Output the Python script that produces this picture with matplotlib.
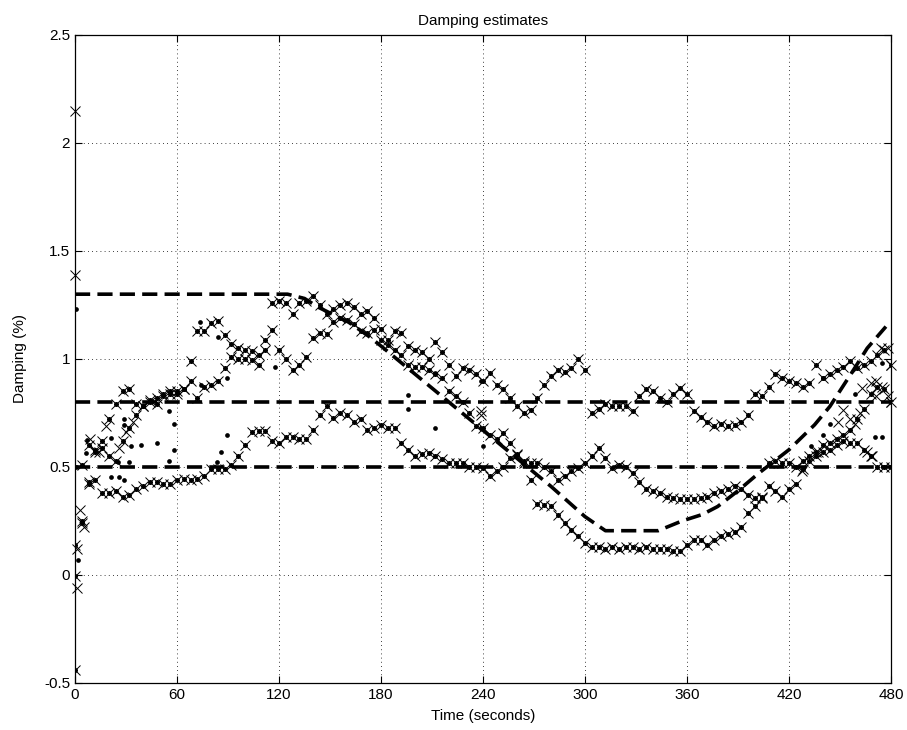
import matplotlib
matplotlib.use("Agg")
import matplotlib.pyplot as plt
import numpy as np

plt.rcParams['font.family'] = ['Liberation Sans', 'DejaVu Sans']

# time grid of the three tracked estimates (every 4 s)
t = np.arange(0, 481, 4)

# estimates tracking the 1.3 % mode
est_a = [0.14, 0.24, 0.42, 0.58, 0.62, 0.72, 0.79, 0.85, 0.86, 0.79,
         0.78, 0.81, 0.82, 0.83, 0.84, 0.85, 0.86, 0.99, 1.13, 1.13,
         1.165, 1.175, 1.11, 1.07, 1.05, 1.04, 1.035, 1.02, 1.04, 1.26,
         1.27, 1.26, 1.21, 1.26, 1.27, 1.29, 1.25, 1.21, 1.23, 1.25,
         1.26, 1.24, 1.21, 1.22, 1.19, 1.14, 1.09, 1.04, 1.02, 0.97,
         0.965, 0.965, 0.95, 0.93, 0.91, 0.85, 0.83, 0.80, 0.75, 0.69,
         0.68, 0.65, 0.63, 0.655, 0.61, 0.56, 0.53, 0.44, 0.33, 0.325,
         0.32, 0.28, 0.24, 0.21, 0.18, 0.15, 0.13, 0.13, 0.12, 0.13,
         0.12, 0.13, 0.13, 0.12, 0.13, 0.12, 0.12, 0.12, 0.11, 0.11,
         0.14, 0.16, 0.16, 0.14, 0.16, 0.18, 0.19, 0.20, 0.22, 0.285,
         0.32, 0.355, 0.41, 0.39, 0.36, 0.40, 0.42, 0.53, 0.55, 0.57,
         0.60, 0.61, 0.63, 0.65, 0.67, 0.72, 0.77, 0.84, 0.87, 0.86,
         0.80]

# estimates tracking the 0.8 % mode
est_b = [-0.005, 0.51, 0.60, 0.57, 0.59, 0.55, 0.53, 0.62, 0.68, 0.74,
         0.78, 0.80, 0.79, 0.84, 0.85, 0.84, 0.86, 0.90, 0.82, 0.87,
         0.88, 0.90, 0.96, 1.01, 1.0, 1.0, 0.995, 0.97, 1.09, 1.135,
         1.04, 1.0, 0.95, 0.97, 1.01, 1.095, 1.12, 1.115, 1.17, 1.19,
         1.18, 1.16, 1.13, 1.12, 1.135, 1.09, 1.065, 1.13, 1.12, 1.06,
         1.04, 1.03, 1.0, 1.08, 1.03, 0.97, 0.92, 0.96, 0.95, 0.93,
         0.90, 0.935, 0.88, 0.86, 0.82, 0.78, 0.75, 0.765, 0.82, 0.88,
         0.92, 0.95, 0.94, 0.96, 1.0, 0.95, 0.75, 0.77, 0.79, 0.78,
         0.78, 0.78, 0.76, 0.83, 0.86, 0.85, 0.82, 0.80, 0.84, 0.865,
         0.84, 0.76, 0.73, 0.71, 0.69, 0.70, 0.69, 0.695, 0.71, 0.74,
         0.84, 0.83, 0.87, 0.93, 0.91, 0.90, 0.89, 0.87, 0.89, 0.97,
         0.91, 0.93, 0.95, 0.965, 0.99, 0.96, 0.97, 0.99, 1.02, 1.04,
         0.97]

# estimates tracking the 0.5 % mode
est_c = [-0.44, 0.25, 0.43, 0.44, 0.38, 0.38, 0.39, 0.36, 0.37, 0.40,
         0.41, 0.43, 0.43, 0.42, 0.42, 0.44, 0.445, 0.44, 0.445, 0.46,
         0.49, 0.49, 0.49, 0.51, 0.55, 0.60, 0.66, 0.665, 0.665, 0.62,
         0.61, 0.64, 0.64, 0.63, 0.63, 0.67, 0.74, 0.78, 0.725, 0.75,
         0.74, 0.71, 0.72, 0.67, 0.68, 0.695, 0.68, 0.68, 0.61, 0.58,
         0.55, 0.56, 0.565, 0.55, 0.535, 0.52, 0.52, 0.52, 0.50, 0.50,
         0.495, 0.46, 0.48, 0.50, 0.54, 0.555, 0.52, 0.52, 0.52, 0.50,
         0.48, 0.44, 0.46, 0.48, 0.495, 0.52, 0.55, 0.59, 0.54, 0.495,
         0.51, 0.50, 0.47, 0.43, 0.40, 0.39, 0.38, 0.36, 0.355, 0.35,
         0.35, 0.35, 0.355, 0.36, 0.38, 0.39, 0.40, 0.41, 0.40, 0.37,
         0.355, 0.36, 0.52, 0.53, 0.52, 0.52, 0.50, 0.49, 0.53, 0.55,
         0.57, 0.58, 0.60, 0.62, 0.61, 0.61, 0.58, 0.55, 0.50, 0.50,
         0.50]

# stray estimates (x markers)
stray_x_t = [0, 0, 1, 1, 3, 5, 9, 14, 18, 26, 30, 34, 239, 239,
             427.5, 437, 449, 452, 456, 459, 462, 463, 466, 468, 469,
             471, 471, 474.5, 474, 478.5, 478.5, 480, 480]
stray_x_y = [2.15, 1.39, 0.12, -0.06, 0.30, 0.22, 0.63, 0.57, 0.69, 0.59, 0.66, 0.71, 0.76, 0.74,
             0.48, 0.57, 0.71, 0.765, 0.72, 0.70, 0.75, 0.865, 0.57, 0.89, 0.55,
             0.90, 0.83, 0.87, 1.05, 0.83, 1.05, 0.80, 0.97]

# stray estimates (dots)
stray_dot_t = [0.4, 0.4, 2, 6.3, 7.2, 21, 21, 25, 26, 29, 29, 29, 32, 33, 38.6,
               48.4, 55.3, 55.3, 58.2, 58.2, 73.5, 74, 83.7, 84, 85.7, 89.6, 89.6,
               117.6, 196, 196, 211.7, 211.7, 239, 240,
               433, 440, 440, 444, 459, 470.6, 474.5, 474.5]
stray_dot_y = [1.23, 0.50, 0.07, 0.565, 0.625, 0.635, 0.455, 0.525, 0.455, 0.72, 0.695, 0.44, 0.525, 0.595, 0.60,
               0.61, 0.76, 0.53, 0.70, 0.58, 1.17, 0.88, 0.525, 1.10, 0.57, 0.91, 0.65,
               0.965, 0.835, 0.77, 0.68, 0.934, 0.90, 0.595,
               0.595, 0.91, 0.65, 0.70, 0.84, 0.64, 0.64, 0.98]

# true damping of the three modes
true1_t = [0, 125, 135, 143, 161, 172, 180, 200, 220, 240, 260, 280, 300, 312,
           343, 357, 369, 378, 390, 402, 420, 435, 444, 451, 458, 466, 477]
true1_y = [1.3, 1.3, 1.28, 1.24, 1.17, 1.11, 1.06, 0.93, 0.80, 0.67, 0.54, 0.41, 0.27, 0.205,
           0.205, 0.25, 0.28, 0.317, 0.39, 0.47, 0.58, 0.695, 0.78, 0.865, 0.95, 1.05, 1.15]
true2_t = [0, 480]
true2_y = [0.8, 0.8]
true3_t = [0, 480]
true3_y = [0.5, 0.5]

fig = plt.figure(figsize=(9.07, 7.30), dpi=100)
ax = fig.add_axes([0.0827, 0.0644, 0.8997, 0.8877])

dash = (0, (4.2, 2.0))
for tt, yy in [(true1_t, true1_y), (true2_t, true2_y), (true3_t, true3_y)]:
    ax.plot(tt, yy, color='k', linewidth=2.6, linestyle=dash, zorder=3)

for est in [est_a, est_b, est_c]:
    ax.plot(t, est, linestyle='none', marker='x', color='k', markersize=6.5,
            markeredgewidth=0.7, zorder=4)
    ax.plot(t, est, linestyle='none', marker='o', color='k', markersize=3.6,
            markeredgewidth=0, zorder=5)

ax.plot(stray_x_t, stray_x_y, linestyle='none', marker='x', color='k',
        markersize=6.5, markeredgewidth=0.7, zorder=4, clip_on=False)
ax.plot(stray_dot_t, stray_dot_y, linestyle='none', marker='o', color='k',
        markersize=3.4, markeredgewidth=0, zorder=5)

ax.set_xlim(0, 480)
ax.set_ylim(-0.5, 2.5)
ax.set_xticks(np.arange(0, 481, 60))
ax.set_yticks([-0.5, 0, 0.5, 1, 1.5, 2, 2.5])
ax.set_yticklabels(['-0.5', '0', '0.5', '1', '1.5', '2', '2.5'])
ax.grid(True, color='k', linestyle=(0, (1, 4)), linewidth=0.6)
ax.tick_params(direction='in', top=True, right=True, length=5, width=0.8, labelsize=11)
for s in ax.spines.values():
    s.set_linewidth(0.9)

ax.set_xlabel('Time (seconds)', fontsize=11, labelpad=5)
ax.set_ylabel('Damping (%)', fontsize=11, labelpad=12)
ax.set_title('Damping estimates', fontsize=11, pad=7)

fig.savefig('out.png', dpi=100)
